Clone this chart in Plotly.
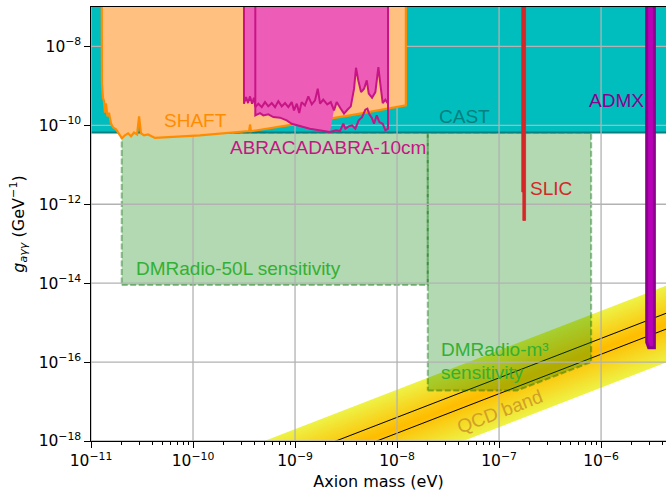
import numpy as np
import plotly.graph_objects as go

# ---------------- axis extents ----------------
MASS_RANGE = [1e-11, 4.33e-6]        # eV
COUPLING_RANGE = [1e-18, 1e-7]       # GeV^-1
TOP = 1e-5                           # regions that stay open towards large couplings
SPAN = [1e-12, 1e-4]                 # masses used for constraints that span the whole plot

# ---------------- CAST helioscope ----------------
cast_g = 6.6e-11

# ---------------- SHAFT exclusion boundary ----------------
shaft_m = [1.27e-11, 1.28e-11, 1.31e-11, 1.34e-11, 1.37e-11, 1.40e-11, 1.45e-11, 1.50e-11,
           1.57e-11, 1.64e-11, 1.76e-11, 1.88e-11, 2.01e-11, 2.15e-11, 2.31e-11, 2.47e-11,
           2.64e-11, 2.83e-11, 2.96e-11, 3.09e-11, 3.31e-11, 3.62e-11, 4.24e-11, 1.17e-10,
           3.55e-10, 3.62e-10, 3.70e-10, 1.12e-9, 3.46e-9, 1.22e-8, 1.22e-8]
shaft_g = [TOP, 1.16e-9, 5.1e-10, 4.1e-10, 2.1e-10, 3.6e-10, 1.7e-10, 2.1e-10,
           1.12e-10, 8.9e-11, 7.9e-11, 6.3e-11, 4.7e-11, 5.6e-11, 6.3e-11, 5.3e-11,
           6.6e-11, 5.9e-11, 1.7e-10, 6.3e-11, 5.6e-11, 5.9e-11, 4.8e-11, 5.6e-11,
           7.2e-11, 1.05e-10, 7.1e-11, 1.12e-10, 1.79e-10, 3.2e-10, TOP]

# ---------------- ABRACADABRA-10cm, first run (outer boundary) ----------------
abra1_m = [3.16e-10, 3.16e-10, 3.31e-10, 3.46e-10, 3.62e-10, 3.79e-10, 3.96e-10, 4.08e-10,
           4.37e-10, 4.72e-10, 5.08e-10, 5.47e-10, 5.91e-10, 6.37e-10, 6.86e-10, 7.41e-10,
           7.98e-10, 8.60e-10, 9.28e-10, 9.77e-10, 1.04e-9, 1.10e-9, 1.16e-9, 1.25e-9,
           1.35e-9, 1.46e-9, 1.57e-9, 1.67e-9, 1.76e-9, 1.89e-9, 2.07e-9, 2.24e-9,
           2.41e-9, 2.56e-9, 2.81e-9, 3.02e-9, 3.26e-9, 3.52e-9, 3.79e-9, 3.96e-9,
           4.17e-9, 4.44e-9, 4.75e-9, 5.05e-9, 5.28e-9, 5.69e-9, 6.13e-9, 6.56e-9,
           6.92e-9, 7.24e-9, 7.68e-9, 8.16e-9, 8.16e-9]
abra1_g = [TOP, 3.54e-10, 5.20e-10, 3.67e-10, 5.42e-10, 3.54e-10, 5.02e-10, 2.90e-10,
           3.54e-10, 2.90e-10, 3.89e-10, 3.03e-10, 3.67e-10, 2.90e-10, 4.12e-10, 3.03e-10,
           3.67e-10, 2.90e-10, 3.89e-10, 2.40e-10, 3.54e-10, 2.05e-10, 3.89e-10, 3.21e-10,
           5.42e-10, 3.40e-10, 4.30e-10, 8.49e-10, 3.54e-10, 4.48e-10, 3.40e-10, 3.89e-10,
           2.40e-10, 3.89e-10, 2.65e-10, 1.98e-10, 2.49e-10, 3.03e-10, 8.49e-10, 2.89e-9,
           1.38e-9, 6.96e-10, 8.49e-10, 1.38e-9, 6.35e-10, 5.02e-10, 6.96e-10, 2.99e-9,
           9.33e-10, 3.67e-10, 4.48e-10, 3.54e-10, TOP]

# ---------------- ABRACADABRA-10cm, second run ----------------
abra2_m = [4.08e-10, 4.08e-10, 4.54e-10, 4.89e-10, 5.47e-10, 6.13e-10, 7.13e-10, 8.29e-10,
           9.28e-10, 1.04e-9, 1.21e-9, 1.40e-9, 1.63e-9, 1.89e-9, 2.20e-9, 2.52e-9,
           2.76e-9, 2.97e-9, 3.11e-9, 3.36e-9, 3.62e-9, 3.90e-9, 4.21e-9, 4.54e-9,
           4.89e-9, 5.12e-9, 5.35e-9, 5.65e-9, 5.95e-9, 6.32e-9, 6.71e-9, 7.24e-9,
           7.68e-9, 8.16e-9, 8.16e-9]
abra2_g = [TOP, 1.79e-10, 2.05e-10, 1.79e-10, 1.90e-10, 1.62e-10, 1.57e-10, 1.34e-10,
           1.10e-10, 1.00e-10, 9.06e-11, 8.25e-11, 7.78e-11, 7.17e-11, 6.77e-11, 7.47e-11,
           7.17e-11, 1.10e-10, 8.25e-11, 9.44e-11, 1.00e-10, 8.25e-11, 1.34e-10, 1.62e-10,
           2.49e-10, 2.65e-10, 1.90e-10, 1.57e-10, 1.10e-10, 1.79e-10, 1.21e-10, 1.10e-10,
           7.47e-11, 8.25e-11, TOP]
abra2_fill_end = 2.20e-9      # second-run region is shaded up to this mass
abra1_join = 2.41e-9          # where the shaded strip closes onto the first-run curve

# ---------------- SLIC ----------------
slic_m = [1.67e-7, 1.67e-7, 1.71e-7, 1.71e-7, 1.82e-7, 1.82e-7]
slic_g = [TOP, 2.05e-12, 2.05e-12, 3.9e-13, 3.9e-13, TOP]

# ---------------- ADMX ----------------
admx_m = [2.80e-6, 2.80e-6, 2.93e-6, 3.33e-6, 3.33e-6]
admx_g = [TOP, 3.2e-16, 2.3e-16, 2.3e-16, TOP]

# ---------------- DMRadio projections ----------------
dmr50_m = [2e-11, 2e-8]
dmr50_g = [9e-15, cast_g]
dmrm3_m = [2e-8, 1.5e-7, 8e-7]
dmrm3_g_low = [1.9e-17, 1.9e-17, 1.0e-16]
dmrm3_g_high = cast_g

# ---------------- QCD axion band: g = C * m (GeV^-1 per eV) ----------------
qcd_upper = 2.0e-9
qcd_lower = 2.24e-11
ksvz = 3.98e-10
dfsz = 1.58e-10
line_m = [1e-11, 1e-5]

# ---------------- ticks ----------------
x_major = [1e-11, 1e-10, 1e-9, 1e-8, 1e-7, 1e-6]
x_major_text = ["10<sup>\u221211</sup>", "10<sup>\u221210</sup>", "10<sup>\u22129</sup>",
                "10<sup>\u22128</sup>", "10<sup>\u22127</sup>", "10<sup>\u22126</sup>"]
y_major = [1e-18, 1e-16, 1e-14, 1e-12, 1e-10, 1e-8]
y_major_text = ["10<sup>\u221218</sup>", "10<sup>\u221216</sup>", "10<sup>\u221214</sup>",
                "10<sup>\u221212</sup>", "10<sup>\u221210</sup>", "10<sup>\u22128</sup>"]
x_minor = [k * d for d in [1e-11, 1e-10, 1e-9, 1e-8, 1e-7, 1e-6] for k in range(2, 10)]

# ---------------- labels: text, mass, coupling, colour ----------------
labels = [
    ("SHAFT", 1.06e-10, 1.31e-10, "#ff8c00", "center"),
    ("ABRACADABRA-10cm", 2.11e-9, 2.77e-11, "#c71585", "center"),
    ("CAST", 4.59e-8, 1.69e-10, "#008080", "center"),
    ("SLIC", 3.24e-7, 2.57e-12, "#d62728", "center"),
    ("ADMX", 1.43e-6, 4.22e-10, "#8b008b", "center"),
    ("DMRadio-50L sensitivity", 2.81e-10, 2.34e-14, "#33b033", "center"),
    ("DMRadio-m\u00b3", 2.60e-8, 2.10e-16, "#33b033", "left"),
    ("sensitivity", 2.60e-8, 5.50e-17, "#33b033", "left"),
]
qcd_label = ("QCD band", 1.02e-7, 5.52e-18)

LABEL_FONT = "Liberation Sans, Arial, sans-serif"
TICK_FONT = "DejaVu Sans, sans-serif"

fig = go.Figure()


def polygon(xs, ys, fill, line_color=None, width=0, dash="solid"):
    fig.add_trace(go.Scatter(
        x=xs, y=ys, mode="lines", fill="toself", fillcolor=fill,
        line=dict(color=line_color or fill, width=width, dash=dash),
        hoverinfo="skip", showlegend=False))


def polyline(xs, ys, color, width, dash="solid"):
    fig.add_trace(go.Scatter(
        x=xs, y=ys, mode="lines", line=dict(color=color, width=width, dash=dash),
        hoverinfo="skip", showlegend=False))


# QCD band drawn as nested strips, yellow at the edges and gold in the middle
c_lo, c_hi = np.log10(qcd_lower), np.log10(qcd_upper)
c_mid, half = 0.5 * (c_lo + c_hi), 0.5 * (c_hi - c_lo)
edge_rgb = np.array([238, 242, 70])
core_rgb = np.array([255, 188, 0])
n_strips = 40
m0, m1 = line_m
for k in range(n_strips):
    frac = 1 - k / n_strips
    lo, hi = 10 ** (c_mid - half * frac), 10 ** (c_mid + half * frac)
    rgb = core_rgb + (edge_rgb - core_rgb) * frac
    col = "rgb(%d,%d,%d)" % tuple(np.round(rgb).astype(int))
    polygon([m0, m1, m1, m0], [m0 * lo, m1 * lo, m1 * hi, m0 * hi], col)

# KSVZ and DFSZ benchmark lines
for coef in (ksvz, dfsz):
    polyline(line_m, [m * coef for m in line_m], "black", 1)

# DMRadio projected sensitivity boxes
green_fill = "rgba(0,128,0,0.3)"
green_edge = "rgba(0,100,0,0.4)"
polygon([dmr50_m[0], dmr50_m[1], dmr50_m[1], dmr50_m[0], dmr50_m[0]],
        [dmr50_g[0], dmr50_g[0], dmr50_g[1], dmr50_g[1], dmr50_g[0]],
        green_fill, green_edge, 2, "6px,2.5px")
polygon(dmrm3_m + [dmrm3_m[-1], dmrm3_m[0], dmrm3_m[0]],
        dmrm3_g_low + [dmrm3_g_high, dmrm3_g_high, dmrm3_g_low[0]],
        green_fill, green_edge, 2, "6px,2.5px")

# CAST
polygon([SPAN[0], SPAN[1], SPAN[1], SPAN[0], SPAN[0]],
        [cast_g, cast_g, TOP, TOP, cast_g], "rgb(0,190,190)", "rgb(0,128,128)", 2)

# grid lines (on top of CAST and the projections, beneath the haloscope limits)
gx, gy = [], []
for v in x_major:
    gx += [v, v, None]
    gy += [COUPLING_RANGE[0], COUPLING_RANGE[1], None]
for v in y_major:
    gx += [SPAN[0], SPAN[1], None]
    gy += [v, v, None]
polyline(gx, gy, "rgb(178,178,178)", 1.3)

# SHAFT
polygon(shaft_m, shaft_g, "rgb(255,192,128)", "#ff8c00", 2.2)

# ABRACADABRA-10cm
abra_fill = "rgb(237,93,183)"
abra_edge = "#c71585"
polygon(abra1_m, abra1_g, abra_fill)
lo_pts = [(m, g) for m, g in zip(abra2_m[1:-1], abra2_g[1:-1]) if m <= abra2_fill_end]
up_pts = [(m, g) for m, g in zip(abra1_m[1:-1], abra1_g[1:-1])
          if abra2_m[0] <= m <= abra1_join]
strip = lo_pts + up_pts[::-1]
polygon([p[0] for p in strip], [p[1] for p in strip], abra_fill)
polyline(abra1_m, abra1_g, abra_edge, 2)
polyline(abra2_m, abra2_g, abra_edge, 2)

# SLIC
polygon(slic_m, slic_g, "#d62728", "#d62728", 0.8)

# ADMX
polygon(admx_m, admx_g, "rgb(185,0,185)", "#8b008b", 3)

annotations = []
for text, m, g, col, anchor in labels:
    annotations.append(dict(
        x=np.log10(m), y=np.log10(g), xref="x", yref="y", text=text, showarrow=False,
        xanchor=anchor, yanchor="middle", font=dict(family=LABEL_FONT, size=19, color=col)))
annotations.append(dict(
    x=np.log10(qcd_label[1]), y=np.log10(qcd_label[2]), xref="x", yref="y",
    text=qcd_label[0], showarrow=False, textangle=-21, xanchor="center", yanchor="middle",
    font=dict(family=LABEL_FONT, size=19, color="rgb(208,160,40)")))

axis_common = dict(
    type="log", showgrid=False, zeroline=False, showline=True, linecolor="black",
    linewidth=1.3, ticks="outside", ticklen=5.5, tickwidth=1.2, tickcolor="black",
    tickfont=dict(family=TICK_FONT, size=15.5, color="black"),
)

fig.update_layout(
    width=666, height=493,
    margin=dict(l=91, r=0, t=7, b=52),
    paper_bgcolor="white", plot_bgcolor="white",
    showlegend=False, hovermode=False,
    annotations=annotations,
    xaxis=dict(
        **axis_common,
        range=[np.log10(MASS_RANGE[0]), np.log10(MASS_RANGE[1])],
        mirror=True, tickmode="array", tickvals=x_major, ticktext=x_major_text,
        minor=dict(tickmode="array", tickvals=x_minor, ticks="outside", ticklen=3.2,
                   tickwidth=1, tickcolor="black", showgrid=False),
        title=dict(text="Axion mass (eV)", standoff=6,
                   font=dict(family=TICK_FONT, size=16, color="black")),
    ),
    yaxis=dict(
        **axis_common,
        range=[np.log10(COUPLING_RANGE[0]), np.log10(COUPLING_RANGE[1])],
        mirror=False, tickmode="array", tickvals=y_major, ticktext=y_major_text,
        title=dict(text="<i>g</i><sub><i>a\u03b3\u03b3</i></sub> (GeV<sup>\u22121</sup>)",
                   standoff=10, font=dict(family=TICK_FONT, size=16, color="black")),
    ),
)

fig.write_html("out.html")
